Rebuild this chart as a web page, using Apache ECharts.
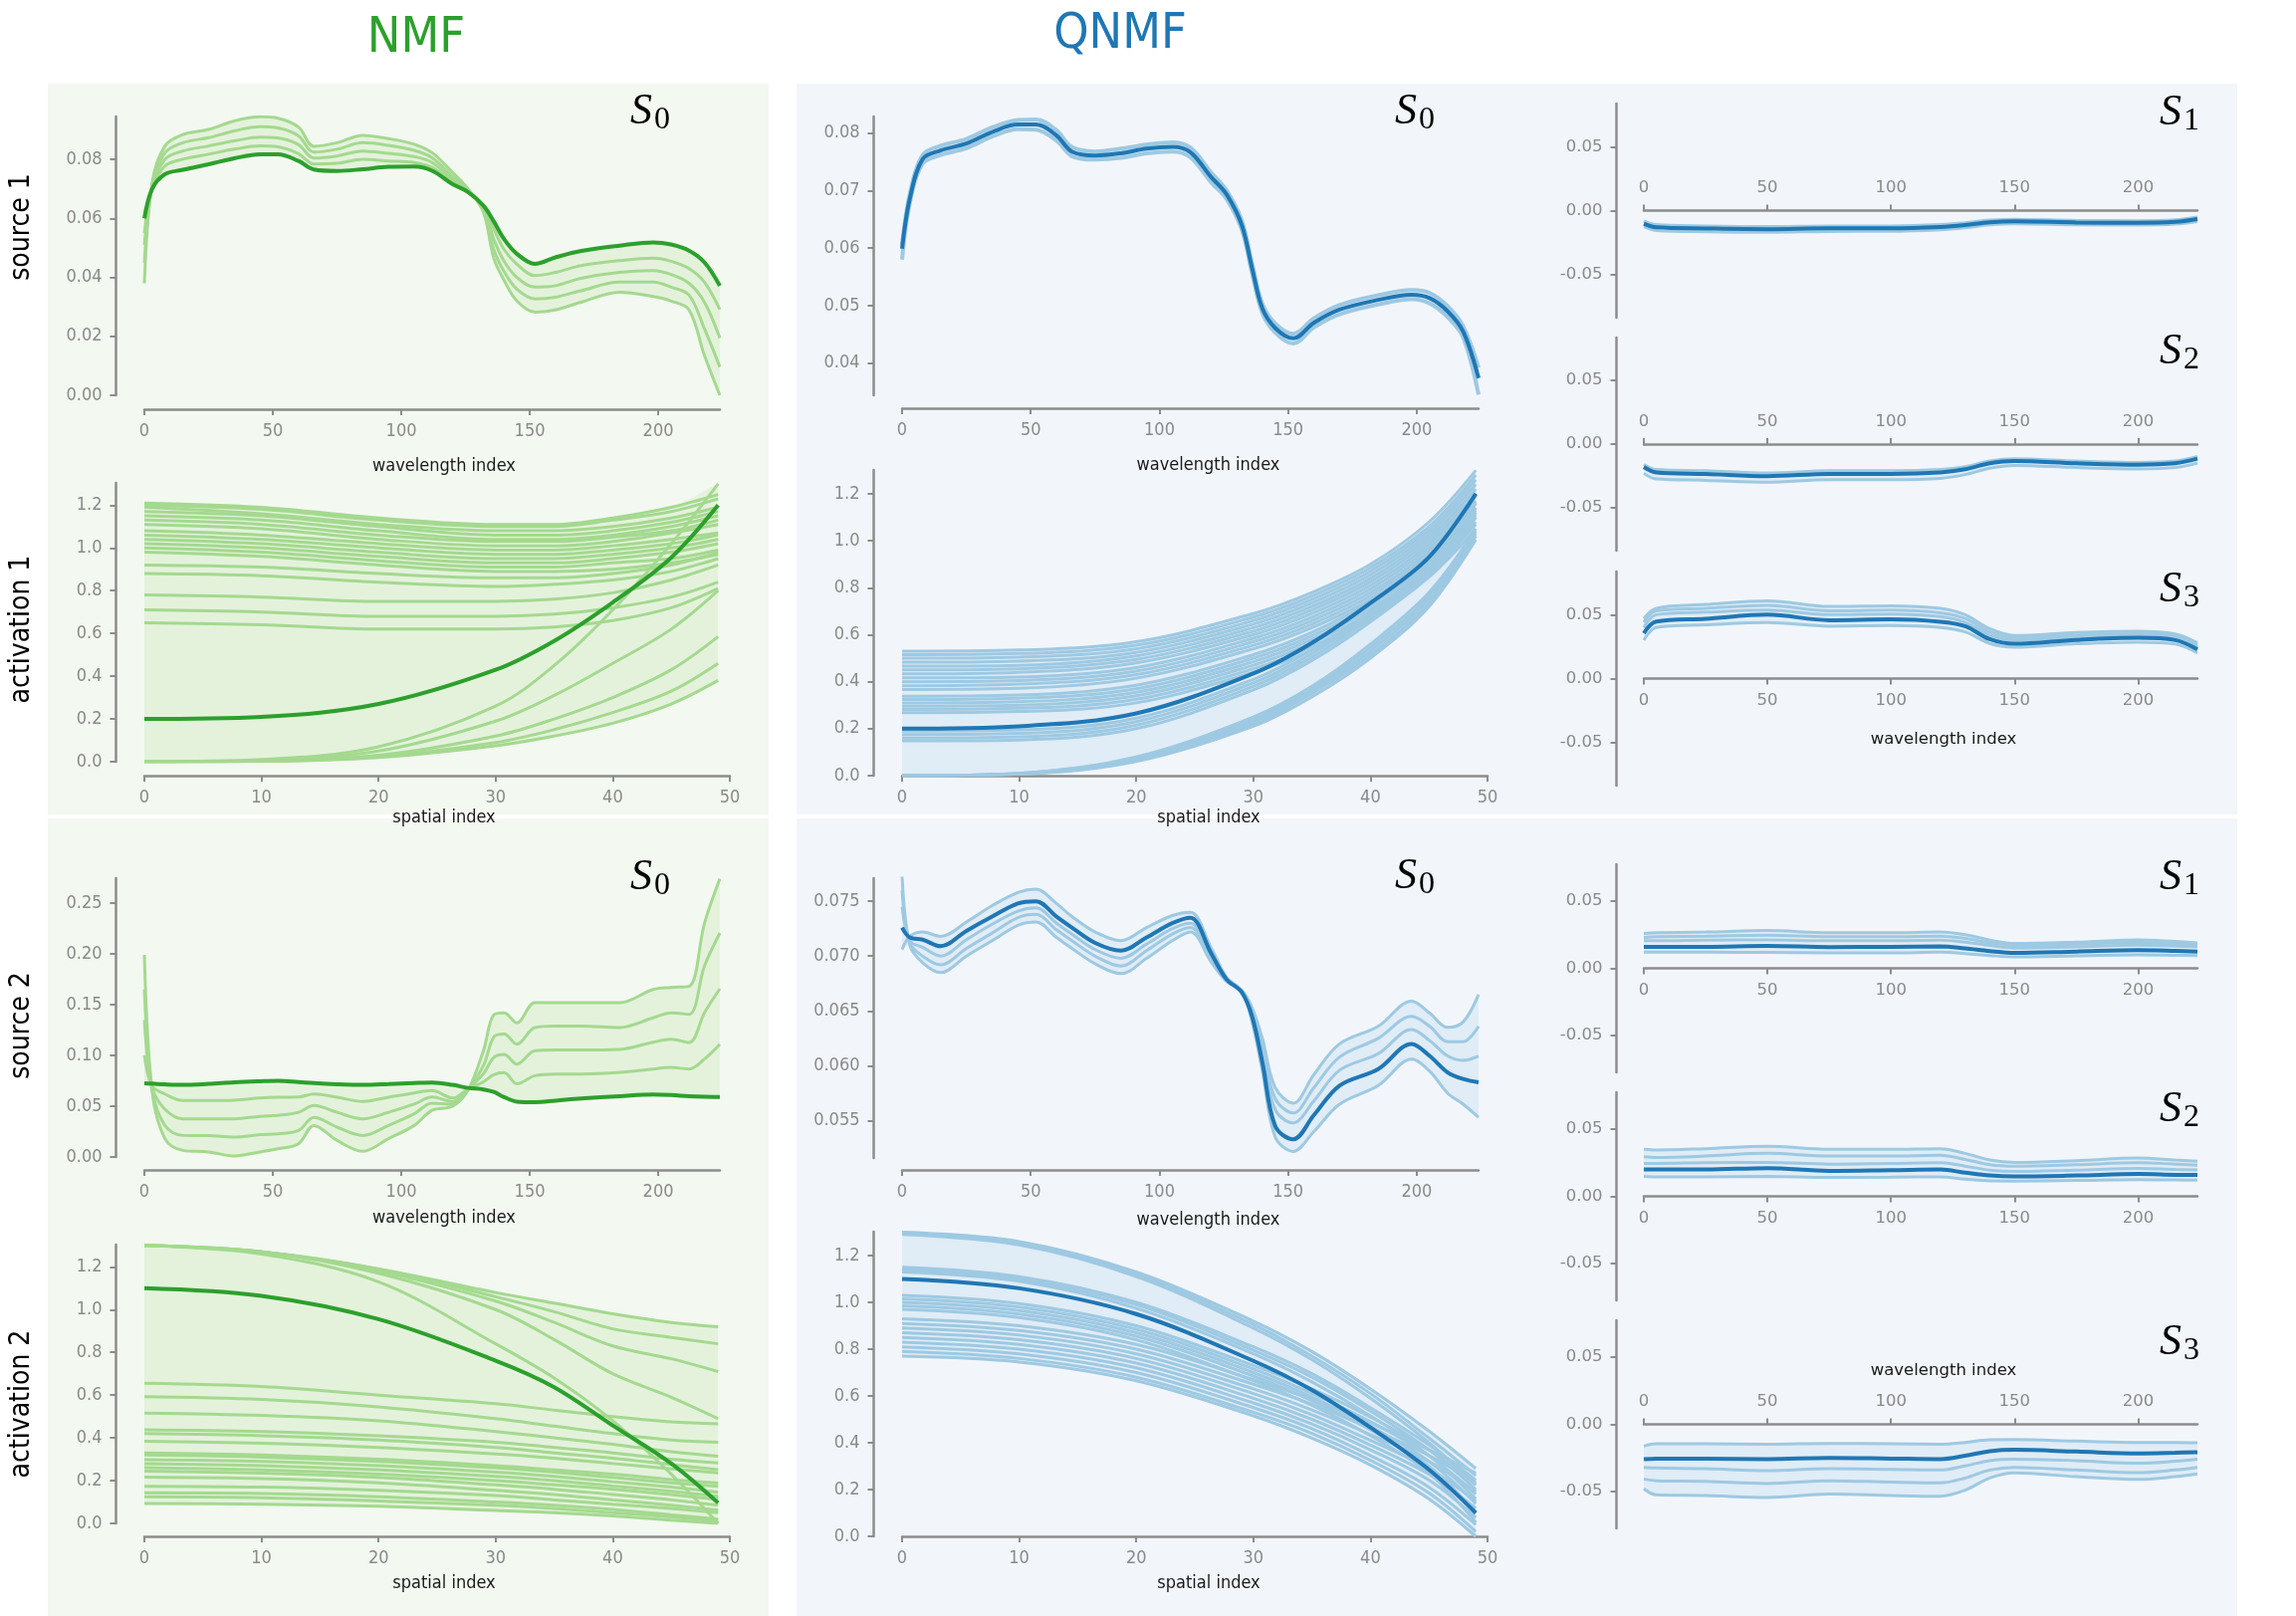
<!DOCTYPE html>
<html lang="en">
<head>
<meta charset="UTF-8">
<title>NMF vs QNMF</title>
<style>
  html, body { margin: 0; padding: 0; background: #ffffff; }
  #main { width: 2306px; height: 1623px; }
</style>
</head>
<body>
<div id="main"></div>
<script src="https://cdn.jsdelivr.net/npm/echarts@6/dist/echarts.min.js"></script>
<script>
// ---------- data ----------
// wavelength sample positions used for the spectra
const wl = [0, 3, 8, 15, 25, 35, 45, 52, 60, 66, 75, 85, 95, 105, 112, 120, 126, 132, 136, 140, 145, 152, 160, 170, 185, 198, 205, 212, 218, 224];
// coarser grid for the S1..S3 panels
const wlS = [0, 5, 25, 50, 75, 100, 120, 130, 140, 150, 175, 200, 215, 224];
// spatial sample positions used for the activations
const sp = [0, 10, 20, 30, 35, 40, 45, 49];

// NMF source 1 (S0)
const nmfSrc1True = [0.060, 0.070, 0.075, 0.0765, 0.0784, 0.0804, 0.0818, 0.0818, 0.0795, 0.0766, 0.0761, 0.0767, 0.0775, 0.0776, 0.0762, 0.0716, 0.069, 0.0643, 0.059, 0.053, 0.048, 0.0446, 0.0468, 0.049, 0.0508, 0.0519, 0.0512, 0.0491, 0.0451, 0.0372];
const nmfSrc1Est = [
  [0.038, 0.072, 0.0846, 0.0885, 0.0902, 0.0931, 0.0945, 0.094, 0.091, 0.0845, 0.0857, 0.0882, 0.0871, 0.0852, 0.0823, 0.0756, 0.070, 0.062, 0.0465, 0.039, 0.032, 0.0282, 0.029, 0.0316, 0.035, 0.0335, 0.032, 0.029, 0.0135, 0.0],
  [0.045, 0.071, 0.0823, 0.0857, 0.0874, 0.0897, 0.0911, 0.0907, 0.088, 0.0825, 0.0835, 0.0857, 0.0848, 0.0831, 0.0806, 0.0742, 0.0695, 0.0635, 0.0495, 0.042, 0.036, 0.0327, 0.0333, 0.0355, 0.0384, 0.0384, 0.0367, 0.034, 0.0226, 0.0096],
  [0.051, 0.0705, 0.0801, 0.0829, 0.0846, 0.0863, 0.0876, 0.0873, 0.085, 0.0805, 0.0812, 0.0829, 0.0821, 0.081, 0.079, 0.0731, 0.069, 0.0637, 0.053, 0.0455, 0.040, 0.0367, 0.0372, 0.0397, 0.0417, 0.0423, 0.041, 0.038, 0.0316, 0.0194],
  [0.055, 0.070, 0.0778, 0.0801, 0.0818, 0.0835, 0.0846, 0.0843, 0.082, 0.0785, 0.0787, 0.0801, 0.0795, 0.079, 0.0773, 0.0722, 0.0688, 0.064, 0.0565, 0.0495, 0.0445, 0.0406, 0.0417, 0.044, 0.0457, 0.0465, 0.0455, 0.043, 0.0384, 0.0291]
];

// NMF source 2 (S0)
const nmfSrc2True = [0.0725, 0.0722, 0.0715, 0.071, 0.072, 0.0735, 0.0745, 0.075, 0.0738, 0.0727, 0.0716, 0.071, 0.0718, 0.0728, 0.0733, 0.071, 0.068, 0.0665, 0.064, 0.059, 0.0545, 0.054, 0.0555, 0.0575, 0.0598, 0.0615, 0.061, 0.0598, 0.0592, 0.059];
const nmfSrc2Est = [
  [0.199, 0.065, 0.018, 0.0065, 0.005, 0.001, 0.005, 0.008, 0.013, 0.031, 0.0163, 0.0056, 0.018, 0.031, 0.046, 0.050, 0.066, 0.105, 0.140, 0.142, 0.132, 0.152, 0.152, 0.152, 0.152, 0.165, 0.167, 0.168, 0.230, 0.274],
  [0.165, 0.067, 0.031, 0.0212, 0.021, 0.0196, 0.022, 0.0229, 0.026, 0.039, 0.0294, 0.0212, 0.031, 0.0425, 0.053, 0.052, 0.066, 0.090, 0.118, 0.121, 0.111, 0.1275, 0.129, 0.129, 0.1275, 0.137, 0.142, 0.1405, 0.188, 0.2206],
  [0.135, 0.069, 0.047, 0.0376, 0.0376, 0.0376, 0.040, 0.041, 0.044, 0.0507, 0.044, 0.0376, 0.044, 0.052, 0.059, 0.0545, 0.067, 0.082, 0.098, 0.101, 0.0915, 0.1046, 0.1055, 0.1055, 0.106, 0.113, 0.116, 0.1127, 0.142, 0.1657],
  [0.100, 0.070, 0.062, 0.0556, 0.0556, 0.056, 0.058, 0.0588, 0.059, 0.062, 0.0588, 0.0546, 0.0588, 0.063, 0.0654, 0.058, 0.067, 0.074, 0.081, 0.083, 0.072, 0.080, 0.0817, 0.0817, 0.0833, 0.0866, 0.0882, 0.0866, 0.0964, 0.111]
];

// NMF activation 1
const nmfAct1True = [0.20, 0.21, 0.27, 0.43, 0.565, 0.745, 0.955, 1.20];
const nmfAct1Est = [
  [1.21, 1.19, 1.14, 1.11, 1.11, 1.14, 1.19, 1.25],
  [1.20, 1.18, 1.13, 1.10, 1.10, 1.13, 1.17, 1.23],
  [1.19, 1.16, 1.11, 1.08, 1.08, 1.10, 1.14, 1.19],
  [1.17, 1.15, 1.10, 1.06, 1.06, 1.08, 1.12, 1.17],
  [1.15, 1.13, 1.08, 1.04, 1.04, 1.06, 1.10, 1.15],
  [1.13, 1.11, 1.06, 1.03, 1.03, 1.05, 1.08, 1.13],
  [1.11, 1.09, 1.04, 1.01, 1.01, 1.03, 1.07, 1.11],
  [1.08, 1.06, 1.02, 0.99, 0.99, 1.01, 1.04, 1.07],
  [1.06, 1.04, 1.00, 0.97, 0.97, 0.99, 1.02, 1.06],
  [1.04, 1.02, 0.98, 0.95, 0.95, 0.97, 1.00, 1.04],
  [1.02, 1.00, 0.96, 0.93, 0.93, 0.95, 0.98, 1.02],
  [1.00, 0.98, 0.94, 0.91, 0.91, 0.93, 0.95, 0.99],
  [0.98, 0.96, 0.92, 0.89, 0.89, 0.90, 0.93, 0.97],
  [0.92, 0.91, 0.88, 0.86, 0.86, 0.88, 0.92, 0.98],
  [0.88, 0.87, 0.84, 0.82, 0.83, 0.85, 0.89, 0.95],
  [0.78, 0.77, 0.75, 0.75, 0.76, 0.79, 0.85, 0.92],
  [0.71, 0.70, 0.68, 0.68, 0.69, 0.72, 0.77, 0.84],
  [0.65, 0.64, 0.62, 0.62, 0.63, 0.66, 0.72, 0.81],
  [0.0, 0.01, 0.07, 0.26, 0.45, 0.71, 1.02, 1.30],
  [0.0, 0.005, 0.05, 0.19, 0.31, 0.46, 0.62, 0.80],
  [0.0, 0.003, 0.03, 0.12, 0.20, 0.30, 0.43, 0.585],
  [0.0, 0.002, 0.025, 0.09, 0.15, 0.23, 0.33, 0.46],
  [0.0, 0.002, 0.02, 0.075, 0.12, 0.18, 0.27, 0.38]
];

// NMF activation 2
const nmfAct2True = [1.10, 1.064, 0.955, 0.761, 0.637, 0.458, 0.28, 0.096];
const nmfAct2Est = [
  [1.30, 1.27, 1.19, 1.08, 1.03, 0.98, 0.94, 0.92],
  [1.30, 1.27, 1.19, 1.06, 0.99, 0.91, 0.87, 0.84],
  [1.30, 1.27, 1.18, 1.04, 0.94, 0.83, 0.77, 0.71],
  [1.30, 1.27, 1.17, 1.00, 0.86, 0.70, 0.59, 0.49],
  [1.30, 1.26, 1.13, 0.84, 0.68, 0.48, 0.23, 0.00],
  [0.655, 0.64, 0.60, 0.56, 0.53, 0.50, 0.475, 0.466],
  [0.593, 0.58, 0.545, 0.49, 0.455, 0.42, 0.39, 0.38],
  [0.516, 0.505, 0.48, 0.43, 0.40, 0.37, 0.335, 0.314],
  [0.438, 0.43, 0.41, 0.38, 0.355, 0.33, 0.30, 0.283],
  [0.42, 0.41, 0.39, 0.355, 0.33, 0.305, 0.275, 0.252],
  [0.384, 0.375, 0.355, 0.325, 0.305, 0.28, 0.255, 0.236],
  [0.33, 0.32, 0.30, 0.27, 0.25, 0.23, 0.205, 0.189],
  [0.32, 0.31, 0.29, 0.26, 0.24, 0.215, 0.19, 0.174],
  [0.298, 0.29, 0.27, 0.24, 0.22, 0.195, 0.17, 0.146],
  [0.28, 0.27, 0.25, 0.22, 0.20, 0.175, 0.15, 0.127],
  [0.261, 0.25, 0.23, 0.20, 0.18, 0.16, 0.135, 0.112],
  [0.245, 0.235, 0.215, 0.18, 0.16, 0.135, 0.11, 0.085],
  [0.217, 0.21, 0.19, 0.155, 0.135, 0.11, 0.085, 0.062],
  [0.174, 0.17, 0.155, 0.13, 0.11, 0.09, 0.07, 0.05],
  [0.143, 0.14, 0.125, 0.10, 0.085, 0.065, 0.04, 0.02],
  [0.124, 0.12, 0.105, 0.085, 0.07, 0.05, 0.03, 0.01],
  [0.093, 0.09, 0.08, 0.06, 0.05, 0.035, 0.015, 0.0]
];

// QNMF source 1 (S0..S3)
const qSrc1S0True = [0.0599, 0.0686, 0.0755, 0.077, 0.0782, 0.0802, 0.0815, 0.0815, 0.0796, 0.0768, 0.0761, 0.0765, 0.0773, 0.0776, 0.0767, 0.0724, 0.0694, 0.064, 0.0565, 0.0495, 0.0461, 0.0443, 0.047, 0.0493, 0.051, 0.0519, 0.0513, 0.049, 0.0455, 0.0374];
const qSrc1S0Est = [
  [0.0606, 0.0694, 0.0762, 0.0778, 0.079, 0.081, 0.0823, 0.0824, 0.0805, 0.0776, 0.0768, 0.0773, 0.078, 0.0784, 0.0775, 0.0732, 0.0701, 0.0648, 0.0574, 0.0503, 0.0469, 0.0451, 0.0478, 0.0501, 0.0518, 0.0527, 0.0522, 0.0499, 0.0464, 0.0392],
  [0.058, 0.0678, 0.0747, 0.0762, 0.0774, 0.0794, 0.0807, 0.0806, 0.0787, 0.076, 0.0754, 0.0757, 0.0765, 0.0768, 0.0758, 0.0715, 0.0686, 0.0632, 0.0556, 0.0487, 0.0453, 0.0434, 0.0462, 0.0485, 0.0502, 0.0511, 0.0504, 0.048, 0.0445, 0.0345]
];
const qSrc1S1True = [-0.0102, -0.0131, -0.014, -0.0146, -0.0139, -0.0139, -0.0128, -0.0113, -0.0091, -0.0084, -0.0093, -0.0095, -0.0088, -0.0066];
const qSrc1S1Est = [
  [-0.008, -0.011, -0.012, -0.0125, -0.012, -0.012, -0.011, -0.0095, -0.0075, -0.0068, -0.0077, -0.0079, -0.0072, -0.005],
  [-0.0125, -0.0155, -0.0165, -0.017, -0.0163, -0.0162, -0.015, -0.0135, -0.0112, -0.0103, -0.0111, -0.0113, -0.0106, -0.0085]
];
const qSrc1S2True = [-0.018, -0.0223, -0.0235, -0.0252, -0.0234, -0.0234, -0.0223, -0.0198, -0.0151, -0.0133, -0.0151, -0.0162, -0.0151, -0.0115];
const qSrc1S2Est = [
  [-0.016, -0.020, -0.021, -0.0228, -0.021, -0.021, -0.020, -0.0178, -0.0133, -0.0116, -0.0133, -0.0144, -0.0134, -0.0098],
  [-0.023, -0.0275, -0.0285, -0.030, -0.028, -0.028, -0.027, -0.024, -0.019, -0.0168, -0.0185, -0.0195, -0.0185, -0.015]
];
const qSrc1S3True = [0.0355, 0.0446, 0.0468, 0.050, 0.0457, 0.0464, 0.0445, 0.041, 0.0308, 0.0272, 0.0303, 0.0319, 0.0301, 0.0228];
const qSrc1S3Est = [
  [0.047, 0.055, 0.058, 0.0609, 0.0565, 0.057, 0.055, 0.050, 0.039, 0.0337, 0.036, 0.037, 0.035, 0.028],
  [0.044, 0.053, 0.055, 0.0572, 0.053, 0.0535, 0.0515, 0.047, 0.0365, 0.0318, 0.034, 0.035, 0.033, 0.026],
  [0.040, 0.050, 0.052, 0.0536, 0.050, 0.0505, 0.0485, 0.044, 0.034, 0.030, 0.032, 0.0335, 0.0315, 0.0245],
  [0.030, 0.040, 0.042, 0.0438, 0.041, 0.0415, 0.040, 0.0365, 0.0275, 0.0246, 0.0272, 0.0285, 0.027, 0.020]
];

// QNMF source 2 (S0..S3)
const qSrc2S0True = [0.0726, 0.0717, 0.0715, 0.0709, 0.0723, 0.0736, 0.0748, 0.075, 0.0736, 0.0726, 0.0712, 0.0705, 0.0717, 0.073, 0.0735, 0.0703, 0.0679, 0.0667, 0.0645, 0.0603, 0.0545, 0.0533, 0.0555, 0.0582, 0.0597, 0.062, 0.0609, 0.0594, 0.0588, 0.0585];
const qSrc2S0Est = [
  [0.0706, 0.0718, 0.0722, 0.0718, 0.0731, 0.0746, 0.0758, 0.0761, 0.0748, 0.0736, 0.0722, 0.0714, 0.0726, 0.0737, 0.074, 0.0708, 0.0681, 0.0668, 0.064, 0.0595, 0.0535, 0.0522, 0.054, 0.0565, 0.0582, 0.0606, 0.0595, 0.0575, 0.0565, 0.0553],
  [0.0745, 0.0714, 0.0708, 0.070, 0.0715, 0.0729, 0.0741, 0.0744, 0.073, 0.072, 0.0706, 0.0698, 0.0711, 0.0725, 0.073, 0.070, 0.0679, 0.0667, 0.0647, 0.061, 0.056, 0.0548, 0.0568, 0.0596, 0.0611, 0.0633, 0.0623, 0.0609, 0.0605, 0.0609],
  [0.076, 0.0712, 0.070, 0.0692, 0.0707, 0.0721, 0.0735, 0.0738, 0.0724, 0.0714, 0.070, 0.0691, 0.0705, 0.072, 0.0726, 0.0698, 0.0678, 0.0668, 0.065, 0.0617, 0.057, 0.0557, 0.058, 0.0608, 0.0625, 0.0645, 0.0636, 0.0622, 0.0622, 0.0636],
  [0.0773, 0.071, 0.0694, 0.0685, 0.070, 0.0714, 0.0728, 0.0731, 0.0717, 0.0707, 0.0693, 0.0684, 0.0698, 0.0714, 0.0722, 0.0695, 0.0677, 0.0669, 0.0653, 0.0625, 0.058, 0.0566, 0.0592, 0.062, 0.0636, 0.0659, 0.0648, 0.0635, 0.064, 0.0665]
];
const qSrc2S1True = [0.016, 0.016, 0.016, 0.0167, 0.0158, 0.016, 0.0163, 0.0148, 0.0128, 0.0115, 0.0125, 0.0135, 0.013, 0.0125];
const qSrc2S1Est = [
  [0.026, 0.0265, 0.027, 0.0281, 0.0265, 0.0265, 0.027, 0.025, 0.021, 0.0185, 0.0195, 0.0212, 0.020, 0.019],
  [0.023, 0.0235, 0.024, 0.0247, 0.0235, 0.0235, 0.024, 0.0222, 0.019, 0.0168, 0.018, 0.0192, 0.0182, 0.0175],
  [0.0205, 0.0205, 0.021, 0.0212, 0.0205, 0.0205, 0.021, 0.0195, 0.017, 0.015, 0.016, 0.0172, 0.0165, 0.016],
  [0.012, 0.012, 0.012, 0.0118, 0.0115, 0.0115, 0.012, 0.011, 0.0095, 0.0085, 0.0092, 0.010, 0.0097, 0.0095]
];
const qSrc2S2True = [0.020, 0.020, 0.020, 0.021, 0.019, 0.0195, 0.020, 0.0176, 0.0155, 0.0148, 0.0155, 0.0166, 0.016, 0.0159];
const qSrc2S2Est = [
  [0.035, 0.0345, 0.0355, 0.0372, 0.035, 0.035, 0.0355, 0.032, 0.027, 0.0252, 0.0265, 0.0285, 0.027, 0.0262],
  [0.0295, 0.029, 0.030, 0.032, 0.030, 0.030, 0.0305, 0.0275, 0.0235, 0.0224, 0.0235, 0.025, 0.024, 0.0232],
  [0.0245, 0.0245, 0.025, 0.0252, 0.024, 0.0245, 0.025, 0.0225, 0.0195, 0.0185, 0.0195, 0.0208, 0.020, 0.0197],
  [0.0148, 0.0145, 0.0145, 0.0148, 0.014, 0.0142, 0.0145, 0.0128, 0.0115, 0.0114, 0.0118, 0.0125, 0.0122, 0.012]
];
const qSrc2S3True = [-0.0259, -0.0255, -0.0255, -0.0259, -0.025, -0.0255, -0.0259, -0.0234, -0.020, -0.019, -0.0203, -0.0217, -0.0212, -0.0207];
const qSrc2S3Est = [
  [-0.0162, -0.0145, -0.0145, -0.0148, -0.0142, -0.0145, -0.0148, -0.0135, -0.0115, -0.0114, -0.0125, -0.0135, -0.0135, -0.0138],
  [-0.032, -0.0325, -0.033, -0.0345, -0.033, -0.0335, -0.034, -0.031, -0.027, -0.0259, -0.027, -0.029, -0.0275, -0.0259],
  [-0.0407, -0.042, -0.0425, -0.0441, -0.042, -0.043, -0.0435, -0.040, -0.034, -0.032, -0.034, -0.036, -0.034, -0.032],
  [-0.048, -0.0525, -0.053, -0.0545, -0.052, -0.053, -0.0535, -0.049, -0.040, -0.0362, -0.039, -0.041, -0.039, -0.0369]
];

// QNMF activation 1
const qAct1True = [0.20, 0.21, 0.265, 0.435, 0.565, 0.735, 0.93, 1.20];
const qAct1Est = [
  [0.53, 0.535, 0.57, 0.69, 0.78, 0.90, 1.08, 1.30],
  [0.515, 0.52, 0.555, 0.675, 0.765, 0.885, 1.06, 1.28],
  [0.50, 0.505, 0.54, 0.66, 0.75, 0.87, 1.045, 1.26],
  [0.483, 0.488, 0.525, 0.645, 0.735, 0.855, 1.03, 1.24],
  [0.466, 0.47, 0.51, 0.63, 0.72, 0.84, 1.015, 1.22],
  [0.45, 0.455, 0.495, 0.615, 0.705, 0.825, 1.00, 1.20],
  [0.433, 0.44, 0.48, 0.60, 0.69, 0.81, 0.985, 1.19],
  [0.416, 0.42, 0.46, 0.585, 0.675, 0.795, 0.97, 1.17],
  [0.40, 0.405, 0.445, 0.57, 0.66, 0.78, 0.955, 1.16],
  [0.383, 0.39, 0.43, 0.555, 0.645, 0.765, 0.94, 1.14],
  [0.367, 0.372, 0.415, 0.54, 0.63, 0.75, 0.925, 1.12],
  [0.338, 0.343, 0.385, 0.515, 0.61, 0.74, 0.92, 1.13],
  [0.324, 0.33, 0.37, 0.50, 0.595, 0.725, 0.905, 1.11],
  [0.31, 0.315, 0.355, 0.485, 0.58, 0.71, 0.89, 1.10],
  [0.296, 0.30, 0.34, 0.47, 0.565, 0.695, 0.875, 1.08],
  [0.282, 0.287, 0.325, 0.455, 0.55, 0.68, 0.86, 1.07],
  [0.268, 0.273, 0.31, 0.44, 0.535, 0.665, 0.845, 1.05],
  [0.19, 0.195, 0.245, 0.41, 0.535, 0.70, 0.90, 1.16],
  [0.175, 0.18, 0.23, 0.395, 0.52, 0.685, 0.885, 1.14],
  [0.16, 0.165, 0.215, 0.38, 0.505, 0.67, 0.87, 1.12],
  [0.148, 0.152, 0.20, 0.365, 0.49, 0.655, 0.855, 1.10],
  [0.0, 0.01, 0.08, 0.25, 0.38, 0.56, 0.78, 1.05],
  [0.0, 0.01, 0.075, 0.24, 0.37, 0.545, 0.765, 1.04],
  [0.0, 0.008, 0.07, 0.23, 0.36, 0.53, 0.75, 1.03],
  [0.0, 0.007, 0.065, 0.22, 0.35, 0.515, 0.735, 1.02],
  [0.0, 0.006, 0.06, 0.21, 0.335, 0.50, 0.72, 1.005]
];

// QNMF activation 2
const qAct2True = [1.10, 1.06, 0.95, 0.75, 0.625, 0.465, 0.285, 0.10];
const qAct2Est = [
  [1.30, 1.26, 1.13, 0.92, 0.79, 0.63, 0.45, 0.29],
  [1.295, 1.25, 1.12, 0.905, 0.77, 0.61, 0.42, 0.26],
  [1.29, 1.245, 1.11, 0.89, 0.755, 0.59, 0.40, 0.22],
  [1.15, 1.11, 1.00, 0.81, 0.695, 0.55, 0.39, 0.24],
  [1.14, 1.10, 0.99, 0.795, 0.68, 0.535, 0.37, 0.20],
  [1.13, 1.09, 0.975, 0.78, 0.66, 0.515, 0.345, 0.16],
  [1.03, 0.995, 0.90, 0.73, 0.63, 0.51, 0.37, 0.22],
  [1.015, 0.98, 0.885, 0.715, 0.61, 0.49, 0.345, 0.18],
  [1.00, 0.965, 0.87, 0.70, 0.595, 0.47, 0.32, 0.14],
  [0.985, 0.95, 0.855, 0.685, 0.58, 0.455, 0.30, 0.10],
  [0.97, 0.935, 0.84, 0.665, 0.56, 0.43, 0.27, 0.06],
  [0.93, 0.90, 0.82, 0.67, 0.585, 0.485, 0.37, 0.27],
  [0.91, 0.88, 0.80, 0.65, 0.565, 0.46, 0.345, 0.23],
  [0.89, 0.86, 0.78, 0.63, 0.54, 0.435, 0.32, 0.19],
  [0.87, 0.84, 0.76, 0.61, 0.52, 0.41, 0.29, 0.15],
  [0.85, 0.82, 0.74, 0.59, 0.50, 0.39, 0.265, 0.12],
  [0.83, 0.80, 0.72, 0.57, 0.48, 0.37, 0.24, 0.08],
  [0.81, 0.78, 0.70, 0.55, 0.46, 0.345, 0.21, 0.05],
  [0.79, 0.76, 0.68, 0.53, 0.44, 0.325, 0.185, 0.02],
  [0.77, 0.745, 0.665, 0.515, 0.42, 0.305, 0.16, 0.0]
];

// tick values
const wlTicks = [0, 50, 100, 150, 200];
const spTicks = [0, 10, 20, 30, 40, 50];
const actTicks = [0, 0.2, 0.4, 0.6, 0.8, 1.0, 1.2];
const nmfSrc1Ticks = [0, 0.02, 0.04, 0.06, 0.08];
const nmfSrc2Ticks = [0, 0.05, 0.10, 0.15, 0.20, 0.25];
const qSrc1Ticks = [0.04, 0.05, 0.06, 0.07, 0.08];
const qSrc2Ticks = [0.055, 0.060, 0.065, 0.070, 0.075];
const sTicks = [-0.05, 0, 0.05];

// ---------- styling ----------
const GREEN = '#2ca02c', GREEN_LIGHT = '#a4d98f', GREEN_FILL = '#e4f2dc', GREEN_BG = '#f3f8f1';
const BLUE = '#1f77b4', BLUE_LIGHT = '#9ec9e2', BLUE_FILL = '#e0ecf6', BLUE_BG = '#f2f6fa';
const AXIS = '#8c8c8c', LABEL = '#8a8a8a';
const FONT_C = '"DejaVu Sans Condensed", "Liberation Sans Narrow", "DejaVu Sans", sans-serif';
const FONT_R = '"DejaVu Sans", sans-serif';
const SMOOTH = 0.35;

const grids = [], xAxes = [], yAxes = [], series = [];

function addPanel(p) {
  const gi = grids.length;
  grids.push({ left: p.box[0], top: p.box[1], width: p.box[2], height: p.box[3] });
  const right = !!p.right;
  const font = right ? FONT_R : FONT_C;
  const fs = right ? 16.5 : 18;
  xAxes.push({
    type: 'value', gridIndex: gi, min: p.xMin, max: p.xMax,
    position: p.xPos || 'bottom', offset: p.xOff || 0,
    axisLine: { onZero: false, lineStyle: { color: AXIS, width: 2.5 } },
    axisTick: { length: 6, customValues: p.xTicks, lineStyle: { color: AXIS, width: 2 } },
    axisLabel: { customValues: p.xTicks, color: LABEL, fontSize: fs, fontFamily: font, margin: right ? 14 : 13,
      formatter: v => String(Math.round(v)) },
    splitLine: { show: false },
    name: p.xName || '', nameLocation: 'middle', nameGap: p.nameGap || 40,
    nameTextStyle: { color: '#1a1a1a', fontSize: fs, fontFamily: font, padding: [0, 0, 0, (p.nameShift || 0) * 2] }
  });
  yAxes.push({
    type: 'value', gridIndex: gi, min: p.yMin, max: p.yMax, offset: p.yOff,
    axisLine: { onZero: false, lineStyle: { color: AXIS, width: 2.5 } },
    axisTick: { length: 6, customValues: p.yTicks, lineStyle: { color: AXIS, width: 2 } },
    axisLabel: { customValues: p.yTicks, color: LABEL, fontSize: fs, fontFamily: font, margin: 14,
      formatter: v => v.toFixed(p.yDec) },
    splitLine: { show: false }
  });

  const xs = p.xs;
  const all = p.est.concat([p.truth]);
  const lo = xs.map((_, i) => Math.min.apply(null, all.map(a => a[i])));
  const hi = xs.map((_, i) => Math.max.apply(null, all.map(a => a[i])));
  // shaded spread between the lowest and highest estimate
  series.push({
    type: 'custom', coordinateSystem: 'cartesian2d', xAxisIndex: gi, yAxisIndex: gi,
    data: [[xs[0], lo[0]]], silent: true, animation: false, clip: true, z: 1,
    renderItem: (params, api) => {
      const top = xs.map((x, i) => api.coord([x, hi[i]]));
      const bot = xs.map((x, i) => api.coord([x, lo[i]])).reverse();
      // repeat the four corner points so the closing edges stay straight
      const pts = [top[0]].concat(top, [top[top.length - 1], bot[0]], bot, [bot[bot.length - 1]]);
      const xsPix = pts.map(q => q[0]), ysPix = pts.map(q => q[1]);
      const box = [[Math.min.apply(null, xsPix), Math.min.apply(null, ysPix)],
                   [Math.max.apply(null, xsPix), Math.max.apply(null, ysPix)]];
      return { type: 'polygon', shape: { points: pts, smooth: 0.3, smoothConstraint: box },
        style: { fill: p.pal.fill } };
    }
  });
  const pts = arr => xs.map((x, i) => [x, arr[i]]);
  const base = { type: 'line', xAxisIndex: gi, yAxisIndex: gi, symbol: 'none', smooth: SMOOTH, silent: true, animation: false };
  p.est.forEach(a => series.push(Object.assign({}, base, { data: pts(a),
    lineStyle: { color: p.pal.light, width: p.lw || 3 }, z: 2 })));
  series.push(Object.assign({}, base, { data: pts(p.truth), lineStyle: { color: p.pal.dark, width: 4 }, z: 3 }));
}

const G = { dark: GREEN, light: GREEN_LIGHT, fill: GREEN_FILL };
const B = { dark: BLUE, light: BLUE_LIGHT, fill: BLUE_FILL };

// NMF column
addPanel({ box: [145, 117, 578, 280], xs: wl, truth: nmfSrc1True, est: nmfSrc1Est, pal: G,
  xMin: 0, xMax: 224, xTicks: wlTicks, xOff: 14, xName: 'wavelength index', nameGap: 48, nameShift: 12,
  yMin: 0, yMax: 0.0946, yTicks: nmfSrc1Ticks, yDec: 2, yOff: 28.5 });
addPanel({ box: [145, 485, 588, 280], xs: sp, truth: nmfAct1True, est: nmfAct1Est, pal: G,
  xMin: 0, xMax: 50, xTicks: spTicks, xOff: 14, xName: 'spatial index', nameGap: 33, nameShift: 7,
  yMin: 0, yMax: 1.304, yTicks: actTicks, yDec: 1, yOff: 28.5 });
addPanel({ box: [145, 882, 578, 280], xs: wl, truth: nmfSrc2True, est: nmfSrc2Est, pal: G,
  xMin: 0, xMax: 224, xTicks: wlTicks, xOff: 13, xName: 'wavelength index', nameGap: 39, nameShift: 12,
  yMin: 0, yMax: 0.2745, yTicks: nmfSrc2Ticks, yDec: 2, yOff: 28.5 });
addPanel({ box: [145, 1250, 588, 280], xs: sp, truth: nmfAct2True, est: nmfAct2Est, pal: G,
  xMin: 0, xMax: 50, xTicks: spTicks, xOff: 13, xName: 'spatial index', nameGap: 38, nameShift: 7,
  yMin: 0, yMax: 1.304, yTicks: actTicks, yDec: 1, yOff: 28.5 });

// QNMF S0 column
addPanel({ box: [906, 117, 579, 280], xs: wl, truth: qSrc1S0True, est: qSrc1S0Est, pal: B, lw: 4,
  xMin: 0, xMax: 224, xTicks: wlTicks, xOff: 13, xName: 'wavelength index', nameGap: 48, nameShift: 18,
  yMin: 0.0344, yMax: 0.0829, yTicks: qSrc1Ticks, yDec: 2, yOff: 28.5 });
addPanel({ box: [906, 472, 588, 307], xs: sp, truth: qAct1True, est: qAct1Est, pal: B,
  xMin: 0, xMax: 50, xTicks: spTicks, xOff: 0, xName: 'spatial index', nameGap: 33, nameShift: 14,
  yMin: 0, yMax: 1.3015, yTicks: actTicks, yDec: 1, yOff: 28.5 });
addPanel({ box: [906, 882, 579, 281], xs: wl, truth: qSrc2S0True, est: qSrc2S0Est, pal: B,
  xMin: 0, xMax: 224, xTicks: wlTicks, xOff: 12, xName: 'wavelength index', nameGap: 41, nameShift: 18,
  yMin: 0.0516, yMax: 0.0771, yTicks: qSrc2Ticks, yDec: 3, yOff: 28.5 });
addPanel({ box: [906, 1237, 588, 306], xs: sp, truth: qAct2True, est: qAct2Est, pal: B,
  xMin: 0, xMax: 50, xTicks: spTicks, xOff: 0, xName: 'spatial index', nameGap: 38, nameShift: 14,
  yMin: 0, yMax: 1.302, yTicks: actTicks, yDec: 1, yOff: 28.5 });

// QNMF S1..S3 column: x axis sits on y = 0 (middle of a symmetric range)
const rightPanels = [
  { box: [1651, 104, 556, 215], truth: qSrc1S1True, est: qSrc1S1Est, xPos: 'top', lim: 0.0838 },
  { box: [1651, 339, 556, 214], truth: qSrc1S2True, est: qSrc1S2Est, xPos: 'top', lim: 0.0838 },
  { box: [1651, 574, 556, 215], truth: qSrc1S3True, est: qSrc1S3Est, xPos: 'bottom', lim: 0.0838, xName: 'wavelength index', nameGap: 53 },
  { box: [1651, 868, 556, 209], truth: qSrc2S1True, est: qSrc2S1Est, xPos: 'bottom', lim: 0.0775 },
  { box: [1651, 1097, 556, 209], truth: qSrc2S2True, est: qSrc2S2Est, xPos: 'bottom', lim: 0.0775 },
  { box: [1651, 1326, 556, 209], truth: qSrc2S3True, est: qSrc2S3Est, xPos: 'top', lim: 0.0775, xName: 'wavelength index', nameGap: 45 }
];
rightPanels.forEach(r => addPanel({ box: r.box, xs: wlS, truth: r.truth, est: r.est, pal: B, right: true,
  xMin: 0, xMax: 224, xTicks: wlTicks, xPos: r.xPos, xOff: -r.box[3] / 2,
  xName: r.xName, nameGap: r.nameGap, nameShift: 23,
  yMin: -r.lim, yMax: r.lim, yTicks: sTicks, yDec: 2, yOff: 27.5 }));

// ---------- decorations ----------
const graphic = [
  { type: 'rect', shape: { x: 48, y: 84, width: 724, height: 734 }, style: { fill: GREEN_BG }, z: -10, silent: true },
  { type: 'rect', shape: { x: 48, y: 822, width: 724, height: 801 }, style: { fill: GREEN_BG }, z: -10, silent: true },
  { type: 'rect', shape: { x: 800, y: 84, width: 1447, height: 734 }, style: { fill: BLUE_BG }, z: -10, silent: true },
  { type: 'rect', shape: { x: 800, y: 822, width: 1447, height: 801 }, style: { fill: BLUE_BG }, z: -10, silent: true },
  { type: 'text', x: 418, y: 39, style: { text: 'NMF', font: '50px ' + FONT_C, fill: GREEN, align: 'center', verticalAlign: 'middle' } },
  { type: 'text', x: 1125, y: 35, style: { text: 'QNMF', font: '50px ' + FONT_C, fill: BLUE, align: 'center', verticalAlign: 'middle' } }
];
[['source 1', 228], ['activation 1', 632], ['source 2', 1030], ['activation 2', 1410]].forEach(r => {
  graphic.push({ type: 'text', x: 22, y: r[1], rotation: Math.PI / 2,
    style: { text: r[0], font: '28px ' + FONT_C, fill: '#000', align: 'center', verticalAlign: 'middle' } });
});
[[633, 112, '0'], [633, 881, '0'], [1401, 112, '0'], [1401, 880, '0'],
 [2169, 113, '1'], [2169, 353, '2'], [2169, 592, '3'],
 [2169, 881, '1'], [2169, 1114, '2'], [2169, 1348, '3']].forEach(s => {
  graphic.push({ type: 'text', x: s[0], y: s[1], z: 10,
    style: { text: 'S', font: 'italic 44px "Liberation Serif", serif', fill: '#000', align: 'left', verticalAlign: 'middle' } });
  graphic.push({ type: 'text', x: s[0] + 24, y: s[1] + 9, z: 10,
    style: { text: s[2], font: '32px "Liberation Serif", serif', fill: '#000', align: 'left', verticalAlign: 'middle' } });
});

const chart = echarts.init(document.getElementById('main'));
chart.setOption({
  animation: false,
  backgroundColor: '#ffffff',
  grid: grids,
  xAxis: xAxes,
  yAxis: yAxes,
  series: series,
  graphic: graphic
});
</script>
</body>
</html>
